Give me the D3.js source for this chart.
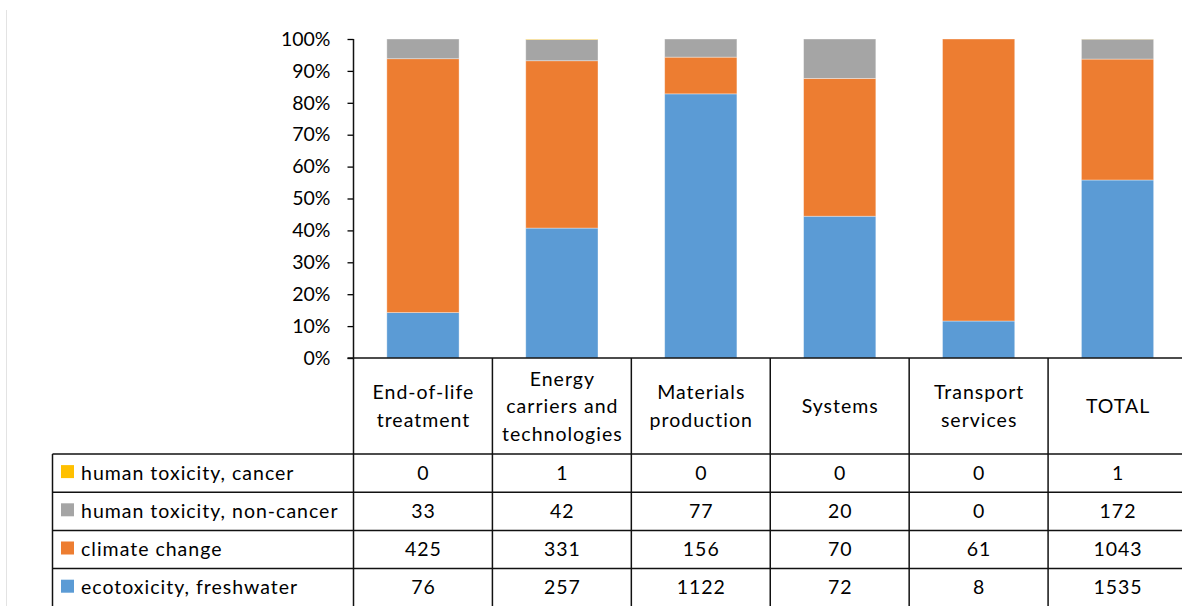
<!DOCTYPE html>
<html><head><meta charset="utf-8">
<script src="https://cdn.jsdelivr.net/npm/d3@7/dist/d3.min.js"></script>
<style>
html,body{margin:0;padding:0;background:#fff;overflow:hidden;}
text{font-family:Lato,"Open Sans",sans-serif;fill:#000;}
.tbl{letter-spacing:1px;}
</style></head>
<body>
<svg id="chart" width="1182" height="606"></svg>
<script>
const categories = ["End-of-life treatment", "Energy carriers and technologies", "Materials production", "Systems", "Transport services", "TOTAL"];
const categoryLines = [["End-of-life","treatment"],["Energy","carriers and","technologies"],["Materials","production"],["Systems"],["Transport","services"],["TOTAL"]];
const seriesNames = ["human toxicity, cancer", "human toxicity, non-cancer", "climate change", "ecotoxicity, freshwater"];
const cancer    = [0, 1, 0, 0, 0, 1];
const nonCancer = [33, 42, 77, 20, 0, 172];
const climate   = [425, 331, 156, 70, 61, 1043];
const eco       = [76, 257, 1122, 72, 8, 1535];
const colors = ["#FFC000", "#A5A5A5", "#ED7D31", "#5B9BD5"];
const yTicks = [0,0.1,0.2,0.3,0.4,0.5,0.6,0.7,0.8,0.9,1];

const seriesValues = [cancer, nonCancer, climate, eco];
const stackKeys = ["eco","climate","nonCancer","cancer"];
const stackColors = {eco:colors[3], climate:colors[2], nonCancer:colors[1], cancer:colors[0]};
const rows = categories.map((c,i)=>({cat:c, eco:eco[i], climate:climate[i], nonCancer:nonCancer[i], cancer:cancer[i]}));
const stacked = d3.stack().keys(stackKeys).offset(d3.stackOffsetExpand)(rows);

const svg = d3.select("#chart");
const FS = 19.5;
const pLeft = 353.5, pRight = 1187, pTop = 39, pBottom = 358;
const headerBottom = 454, rowH = 38.2, tableLeft = 52.5;

const x = d3.scaleBand().domain(categories).range([pLeft, pRight]).paddingInner(0.48).paddingOuter(0.24);
const xCol = d3.scaleBand().domain(categories).range([pLeft, pRight]);
const y = d3.scaleLinear().domain([0,1]).range([pBottom, pTop]);

svg.append("line").attr("x1",6.5).attr("x2",6.5).attr("y1",10).attr("y2",606).attr("stroke","#e3e3e3").attr("stroke-width",1);

svg.append("g").selectAll("g").data(stacked).join("g")
  .attr("fill", d=>stackColors[d.key])
  .selectAll("rect").data(d=>d).join("rect")
  .attr("x", d=>x(d.data.cat))
  .attr("width", x.bandwidth())
  .attr("y", d=>y(d[1]))
  .attr("height", d=>Math.max(0, y(d[0])-y(d[1])))
  .attr("stroke","#fff").attr("stroke-opacity",0.45).attr("stroke-width",0.8);

const yAxis = d3.axisLeft(y).tickValues(yTicks).tickFormat(d3.format(".0%")).tickSize(6).tickPadding(17);
const gy = svg.append("g").attr("transform",`translate(${pLeft},0)`).call(yAxis);
gy.select(".domain").remove();
gy.selectAll(".tick line").attr("stroke","#000").attr("stroke-width",1.3);
gy.selectAll(".tick text").style("font-size",FS+"px").style("font-family","Lato").attr("fill","#000");

const lineColor = "#111", lw = 1.5;
const tableBottom = headerBottom + rowH*4;
const g = svg.append("g").attr("stroke",lineColor).attr("stroke-width",lw);
g.append("line").attr("x1",pLeft).attr("x2",pLeft).attr("y1",pTop).attr("y2",tableBottom);
g.append("line").attr("x1",pLeft-6).attr("x2",pRight).attr("y1",pBottom).attr("y2",pBottom);
for(let r=0;r<=4;r++){
  const yy = headerBottom + r*rowH;
  g.append("line").attr("x1",tableLeft).attr("x2",pRight).attr("y1",yy).attr("y2",yy);
}
g.append("line").attr("x1",tableLeft).attr("x2",tableLeft).attr("y1",headerBottom).attr("y2",tableBottom);
categories.forEach((c,i)=>{
  if(i===0) return;
  g.append("line").attr("x1",xCol(c)).attr("x2",xCol(c)).attr("y1",pBottom).attr("y2",tableBottom);
});
g.append("line").attr("x1",pRight).attr("x2",pRight).attr("y1",pBottom).attr("y2",tableBottom);

const lh = 27.5;
categories.forEach((c,i)=>{
  const lines = categoryLines[i];
  const cx = xCol(c) + xCol.bandwidth()/2 + 0.5;
  const cy = (pBottom+headerBottom)/2;
  const t = svg.append("text").attr("class","tbl").attr("text-anchor","middle").style("font-size",FS+"px");
  lines.forEach((ln,k)=>{
    t.append("tspan").attr("x",cx).attr("y", cy - (lines.length-1)*lh/2 + k*lh + 7).text(ln);
  });
});

seriesNames.forEach((name,r)=>{
  const yy = headerBottom + r*rowH;
  const cy = yy + rowH/2;
  svg.append("rect").attr("x",61).attr("y",cy-8).attr("width",13).attr("height",13).attr("fill",colors[r]);
  svg.append("text").attr("class","tbl").attr("x",81).attr("y",cy+6.5).style("font-size",FS+"px").text(name);
  seriesValues[r].forEach((v,i)=>{
    svg.append("text").attr("class","tbl").attr("x", xCol(categories[i])+xCol.bandwidth()/2 + 0.5).attr("y",cy+6.5)
      .attr("text-anchor","middle").style("font-size",FS+"px").text(v);
  });
});
</script>
</body></html>
